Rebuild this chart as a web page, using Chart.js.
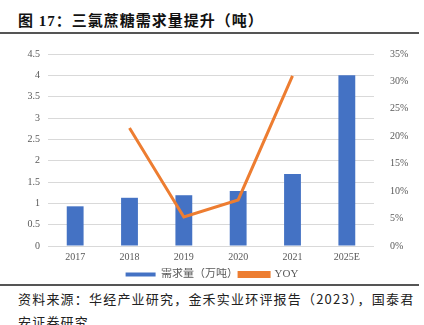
<!DOCTYPE html>
<html>
<head>
<meta charset="utf-8">
<script src="https://cdn.jsdelivr.net/npm/chart.js@4/dist/chart.umd.min.js"></script>
<style>
  html, body { margin: 0; padding: 0; background: #fff; }
  body { width: 424px; height: 325px; position: relative; overflow: hidden; }
  .title {
    position: absolute; left: 18px; top: 9px;
    font-family: "Liberation Serif", "Noto Sans CJK SC", serif;
    font-weight: bold; font-size: 15px; color: #111; letter-spacing: 1px;
  }
  .rule { position: absolute; left: 0; width: 419px; height: 2px; background: #555; }
  .source {
    position: absolute; left: 18px; top: 287px; width: 410px;
    font-family: "Noto Sans CJK SC", sans-serif; font-size: 13px;
    letter-spacing: 1.2px; line-height: 23px; color: #222; white-space: nowrap;
  }
  #wrap { position: absolute; left: 0; top: 40px; width: 424px; height: 250px; }
</style>
</head>
<body>
<div class="title">图 17：三氯蔗糖需求量提升（吨）</div>
<div class="rule" style="top:32px"></div>
<div class="rule" style="top:284px"></div>
<div class="source">资料来源：华经产业研究，金禾实业环评报告（2023），国泰君<br>安证券研究</div>
<div id="wrap"><canvas id="demandChart"></canvas></div>
<script>
// categories and series
const years = ["2017", "2018", "2019", "2020", "2021", "2025E"];
const demand = [0.93, 1.13, 1.19, 1.29, 1.69, 4.0];      // 万吨
const yoy = [null, 21.5, 5.3, 8.4, 31.0, null];           // %

const tickFont = { family: "'Liberation Serif', serif", size: 10 };
const tickColor = "#595959";

new Chart(document.getElementById("demandChart"), {
    data: {
        labels: years,
        datasets: [
            {
                type: "line",
                label: "YOY",
                data: yoy,
                yAxisID: "yRight",
                borderColor: "#ED7D31",
                backgroundColor: "#ED7D31",
                borderWidth: 3,
                pointRadius: 0,
                tension: 0,
                spanGaps: false,
                order: 0
            },
            {
                type: "bar",
                label: "需求量（万吨）",
                data: demand,
                yAxisID: "yLeft",
                backgroundColor: "#4472C4",
                categoryPercentage: 1,
                barPercentage: 0.31,
                order: 1
            }
        ]
    },
    options: {
        responsive: true,
        maintainAspectRatio: false,
        animation: false,
        layout: { padding: { top: 12, left: 0, right: 0, bottom: 0 } },
        plugins: {
            tooltip: { enabled: false },
            legend: {
                position: "bottom",
                reverse: true,
                labels: {
                    boxWidth: 30,
                    boxHeight: 4,
                    padding: 1,
                    color: tickColor,
                    font: { family: "'Liberation Serif', 'Noto Sans CJK SC', serif", size: 11 }
                }
            }
        },
        scales: {
            x: {
                grid: { display: false, drawTicks: false },
                border: { display: false },
                ticks: { color: tickColor, font: tickFont, padding: 5 }
            },
            yLeft: {
                position: "left",
                min: 0, max: 4.5,
                afterFit: s => { s.width = 48; },
                grid: { color: "#d9d9d9", drawTicks: false },
                border: { display: false },
                ticks: {
                    stepSize: 0.5, color: tickColor, font: tickFont, padding: 8,
                    callback: v => String(+v.toFixed(1))
                }
            },
            yRight: {
                position: "right",
                min: 0, max: 35,
                afterFit: s => { s.width = 50; },
                grid: { display: false },
                border: { display: false },
                ticks: {
                    stepSize: 5, color: tickColor, font: tickFont, padding: 8,
                    callback: v => v + "%"
                }
            }
        }
    }
});
</script>
</body>
</html>
